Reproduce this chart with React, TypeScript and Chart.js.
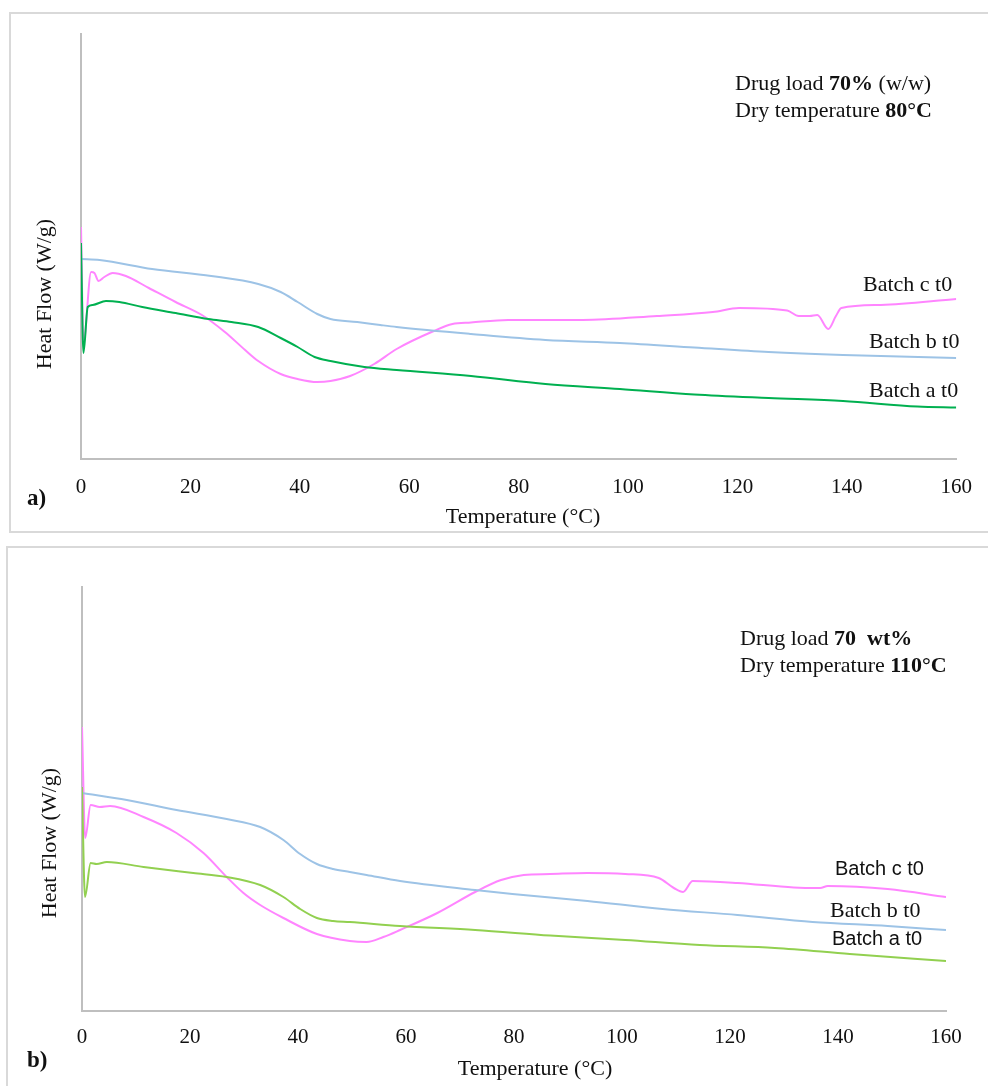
import React, { useEffect, useRef } from "react";
import { Chart, registerables } from "chart.js";

Chart.register(...registerables);

const SERIF = '"Liberation Serif", "Times New Roman", serif';
const SANS = '"Liberation Sans", Arial, sans-serif';

// Temperature ticks (°C)
const X_TICKS = [0, 20, 40, 60, 80, 100, 120, 140, 160];

// ---------- Panel a) dry temperature 80°C ----------
const A_BATCH_A_T = [0, 0.45, 1.23, 2.14, 4.57, 7, 11.2, 17.3, 23.3, 27.5, 32.4, 36.5, 39.6, 42.7, 45.6, 51.8, 57.7, 71.3, 84.9, 98.5, 112.1, 125.7, 139.3, 152.9, 160];
const A_BATCH_A_V = [2.16, 1.06, 1.52, 1.54, 1.58, 1.57, 1.52, 1.46, 1.4, 1.37, 1.32, 1.21, 1.12, 1.02, 0.98, 0.92, 0.89, 0.83, 0.75, 0.7, 0.645, 0.61, 0.58, 0.525, 0.515];

const A_BATCH_B_T = [0, 3.4, 13, 23.8, 32.4, 36.5, 39.6, 43.2, 45.6, 50.5, 54.7, 57.7, 71.3, 84.9, 98.5, 112.1, 125.7, 139.3, 160];
const A_BATCH_B_V = [2.0, 1.99, 1.9, 1.83, 1.75, 1.67, 1.57, 1.45, 1.4, 1.37, 1.34, 1.32, 1.25, 1.19, 1.16, 1.115, 1.07, 1.04, 1.01];

const A_BATCH_C_T = [0, 0.45, 1.85, 2.45, 3.2, 4.26, 5.77, 8.2, 12.4, 17.3, 22.1, 26.3, 30, 32.4, 36.5, 39.6, 43.2, 45.6, 49.2, 53.6, 57.7, 64.5, 67.9, 71.3, 78.1, 91.7, 105.3, 115.5, 120.3, 129.1, 131.2, 133.2, 134.6, 136.6, 138, 139, 146.2, 160];
const A_BATCH_C_V = [2.32, 1.16, 1.87, 1.86, 1.78, 1.82, 1.86, 1.83, 1.71, 1.57, 1.44, 1.27, 1.09, 0.98, 0.85, 0.8, 0.77, 0.78, 0.83, 0.95, 1.1, 1.28, 1.35, 1.365, 1.39, 1.39, 1.43, 1.47, 1.51, 1.485, 1.43, 1.43, 1.44, 1.3, 1.43, 1.51, 1.54, 1.6];

// ---------- Panel b) dry temperature 110°C ----------
const B_BATCH_A_T = [0, 0.56, 1.6, 2.7, 4.6, 11.4, 20.6, 26.8, 33, 37.3, 40.4, 43.5, 46.5, 49.6, 58.9, 72.8, 86.7, 100.6, 114.4, 128.3, 142.2, 160];
const B_BATCH_A_V = [2.24, 1.14, 1.48, 1.47, 1.49, 1.44, 1.38, 1.34, 1.26, 1.14, 1.02, 0.93, 0.9, 0.89, 0.85, 0.81, 0.755, 0.71, 0.66, 0.63, 0.57, 0.5];

const B_BATCH_B_T = [0, 8.3, 17.5, 26.8, 33, 37.3, 40.4, 43.5, 46.5, 49.6, 52.7, 58.9, 72.8, 79.7, 93.6, 107.5, 121.4, 135.3, 149.2, 160];
const B_BATCH_B_V = [2.18, 2.11, 2.01, 1.92, 1.84, 1.71, 1.57, 1.47, 1.42, 1.39, 1.36, 1.3, 1.21, 1.17, 1.1, 1.02, 0.96, 0.89, 0.85, 0.81];

const B_BATCH_C_T = [0, 0.6, 1.6, 3.3, 5.2, 11.4, 17.5, 22.5, 26.8, 29.9, 33, 37.3, 43.5, 49.6, 52.7, 55.8, 58.9, 65.8, 72.8, 77.6, 81.8, 86.7, 93.6, 100.6, 106.8, 109.6, 111.3, 113.1, 121.4, 131.8, 136.7, 138.1, 149.2, 160];
const B_BATCH_C_V = [2.84, 1.73, 2.06, 2.04, 2.05, 1.94, 1.78, 1.58, 1.34, 1.18, 1.06, 0.93, 0.77, 0.7, 0.69, 0.74, 0.81, 0.98, 1.19, 1.31, 1.36, 1.37, 1.38, 1.37, 1.33, 1.23, 1.19, 1.3, 1.28, 1.235, 1.23, 1.25, 1.22, 1.14];

const BLUE = "#9DC3E6";
const PINK = "#FF85FF";
const GREEN_A = "#00B050";
const GREEN_B = "#92D050";
const AXIS = "#BFBFBF";
const FRAME = "#D9D9D9";

type Series = { label: string; t: number[]; v: number[]; color: string };

function toPoints(t: number[], v: number[]) {
  return t.map((x, i) => ({ x, y: v[i] }));
}

function PanelChart(props: {
  top: number;
  height: number;
  padTop: number;
  yAxisW: number;
  padRight: number;
  xAxisH: number;
  yMax: number;
  tickPad: number;
  series: Series[];
}) {
  const ref = useRef<HTMLCanvasElement>(null);
  useEffect(() => {
    const { padTop, yAxisW, padRight, xAxisH, yMax, tickPad, series } = props;
    const chart = new Chart(ref.current as HTMLCanvasElement, {
      type: "line",
      data: {
        datasets: series.map((s) => ({
          label: s.label,
          data: toPoints(s.t, s.v),
          borderColor: s.color,
          backgroundColor: s.color,
          borderWidth: 2,
          pointRadius: 0,
          fill: false,
          cubicInterpolationMode: "monotone" as const,
        })),
      },
      options: {
        responsive: false,
        animation: false,
        devicePixelRatio: 1,
        layout: { padding: { top: padTop, left: 0, right: padRight, bottom: 0 } },
        plugins: { legend: { display: false }, tooltip: { enabled: false } },
        scales: {
          x: {
            type: "linear",
            min: 0,
            max: 160,
            grid: { display: false, drawTicks: false },
            border: { color: AXIS, width: 2 },
            ticks: {
              stepSize: 20,
              autoSkip: false,
              maxRotation: 0,
              padding: tickPad,
              color: "#111",
              font: { family: SERIF, size: 21 },
            },
            afterBuildTicks: (s: any) => {
              s.ticks = X_TICKS.map((value) => ({ value }));
            },
            afterFit: (s: any) => {
              s.height = xAxisH;
            },
          },
          y: {
            type: "linear",
            min: 0,
            max: yMax,
            grid: { display: false, drawTicks: false },
            border: { color: AXIS, width: 2 },
            ticks: { display: false },
            afterFit: (s: any) => {
              s.width = yAxisW;
            },
          },
        },
      },
    });
    return () => chart.destroy();
  }, []);
  return (
    <canvas
      ref={ref}
      width={988}
      height={props.height}
      style={{ position: "absolute", left: 0, top: props.top, width: 988, height: props.height }}
    />
  );
}

function Txt(props: { x: number; y: number; size?: number; family?: string; bold?: boolean; children: any }) {
  const size = props.size ?? 22;
  return (
    <div
      style={{
        position: "absolute",
        left: props.x,
        top: props.y - 14,
        height: 28,
        lineHeight: "28px",
        whiteSpace: "nowrap",
        fontFamily: props.family ?? SERIF,
        fontSize: size,
        fontWeight: props.bold ? "bold" : "normal",
        color: "#111",
      }}
    >
      {props.children}
    </div>
  );
}

function Centered(props: { x: number; y: number; rotate?: boolean; children: any }) {
  return (
    <div
      style={{
        position: "absolute",
        left: props.x,
        top: props.y,
        transform: `translate(-50%, -50%)${props.rotate ? " rotate(-90deg)" : ""}`,
        whiteSpace: "nowrap",
        fontFamily: SERIF,
        fontSize: 22,
        lineHeight: "26px",
        color: "#111",
      }}
    >
      {props.children}
    </div>
  );
}

export default function App() {
  const seriesA: Series[] = [
    { label: "Batch a t0", t: A_BATCH_A_T, v: A_BATCH_A_V, color: GREEN_A },
    { label: "Batch b t0", t: A_BATCH_B_T, v: A_BATCH_B_V, color: BLUE },
    { label: "Batch c t0", t: A_BATCH_C_T, v: A_BATCH_C_V, color: PINK },
  ];
  const seriesB: Series[] = [
    { label: "Batch a t0", t: B_BATCH_A_T, v: B_BATCH_A_V, color: GREEN_B },
    { label: "Batch b t0", t: B_BATCH_B_T, v: B_BATCH_B_V, color: BLUE },
    { label: "Batch c t0", t: B_BATCH_C_T, v: B_BATCH_C_V, color: PINK },
  ];
  return (
    <div
      style={{
        position: "absolute",
        left: 0,
        top: 0,
        width: 988,
        height: 1086,
        overflow: "hidden",
        background: "#fff",
      }}
    >
      {/* panel frames */}
      <div style={{ position: "absolute", left: 9, top: 12, width: 1000, height: 521, border: `2px solid ${FRAME}`, boxSizing: "border-box" }} />
      <div style={{ position: "absolute", left: 6, top: 546, width: 1000, height: 600, border: `2px solid ${FRAME}`, boxSizing: "border-box" }} />

      <PanelChart top={0} height={540} padTop={34} yAxisW={81} padRight={24} xAxisH={81} yMax={4.25} tickPad={16} series={seriesA} />
      <PanelChart top={540} height={546} padTop={47} yAxisW={82} padRight={42} xAxisH={75} yMax={4.24} tickPad={14} series={seriesB} />

      {/* panel a texts */}
      <Centered x={44} y={294} rotate>Heat Flow (W/g)</Centered>
      <Centered x={523} y={516}>Temperature (°C)</Centered>
      <Txt x={27} y={498} size={23} bold>a)</Txt>
      <Txt x={735} y={83}>Drug load <b>70%</b> (w/w)</Txt>
      <Txt x={735} y={110}>Dry temperature <b>80°C</b></Txt>
      <Txt x={863} y={284}>Batch c t0</Txt>
      <Txt x={869} y={341}>Batch b t0</Txt>
      <Txt x={869} y={390}>Batch a t0</Txt>

      {/* panel b texts */}
      <Centered x={49} y={843} rotate>Heat Flow (W/g)</Centered>
      <Centered x={535} y={1068}>Temperature (°C)</Centered>
      <Txt x={27} y={1060} size={23} bold>b)</Txt>
      <Txt x={740} y={638}>Drug load <b>70&nbsp; wt%</b></Txt>
      <Txt x={740} y={665}>Dry temperature <b>110°C</b></Txt>
      <Txt x={835} y={868} size={20} family={SANS}>Batch c t0</Txt>
      <Txt x={830} y={910}>Batch b t0</Txt>
      <Txt x={832} y={938} size={20} family={SANS}>Batch a t0</Txt>
    </div>
  );
}
